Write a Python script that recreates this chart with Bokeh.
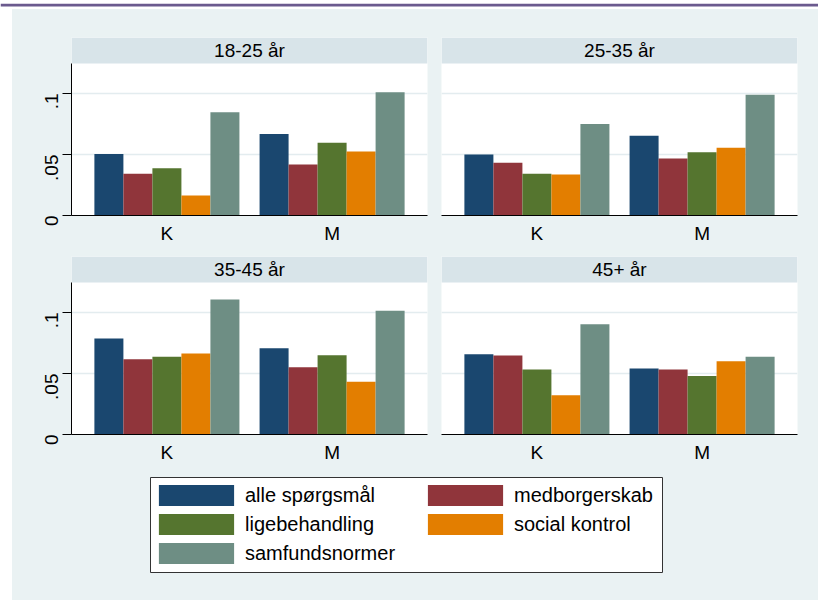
import math
from bokeh.plotting import figure
from bokeh.layouts import column, row, Spacer
from bokeh.models import (ColumnDataSource, FactorRange, Range1d, FixedTicker, Grid,
                          BoxAnnotation, Label, Legend, LegendItem)
from bokeh.transform import dodge
from bokeh.embed import file_html
from bokeh.resources import INLINE

# ---------------- data ----------------
groups = ["K", "M"]
panel_titles = ["18-25 år", "25-35 år", "35-45 år", "45+ år"]
series_names = ["alle spørgsmål", "medborgerskab", "ligebehandling",
                "social kontrol", "samfundsnormer"]

# one (K, M) pair per panel, panels in the order of panel_titles
alle_spoergsmaal = [(0.0505, 0.0669), (0.0500, 0.0653), (0.0786, 0.0707), (0.0658, 0.0542)]
medborgerskab    = [(0.0342, 0.0418), (0.0432, 0.0467), (0.0616, 0.0551), (0.0647, 0.0532)]
ligebehandling   = [(0.0388, 0.0596), (0.0342, 0.0519), (0.0638, 0.0649), (0.0532, 0.0479)]
social_kontrol   = [(0.0164, 0.0525), (0.0336, 0.0555), (0.0663, 0.0433), (0.0321, 0.0600)]
samfundsnormer   = [(0.0847, 0.1011), (0.0749, 0.0989), (0.1107, 0.1014), (0.0904, 0.0638)]

y_ticks = [0, 0.05, 0.1]
y_tick_labels = ["0", ".05", ".1"]
grid_ticks = [0.05, 0.1]

series_values = [alle_spoergsmaal, medborgerskab, ligebehandling, social_kontrol, samfundsnormer]

# ---------------- style ----------------
FONT = "Liberation Sans"
BG = "#EAF2F3"
STRIP = "#D8E4E9"
GRID = "#E3ECEF"
PURPLE = "#6B5A8E"
COLORS = ["#1A476F", "#90353B", "#55752F", "#E37E00", "#6E8E84"]

Y_TOP = 0.1246       # top of the plotting area
Y_END = 0.1459       # top of the strip (header)
BAR_W = 0.1756
OFFSETS = [(i - 2) * BAR_W for i in range(5)]
FS = "19px"


def panel_source(idx):
    data = {"grp": groups}
    for j, vals in enumerate(series_values):
        data[f"s{j}"] = list(vals[idx])
    return ColumnDataSource(data)


def make_panel(idx, left_axis, b_left, b_right, b_top, b_bottom):
    p = figure(x_range=FactorRange(*groups, range_padding=0.0776),
               y_range=Range1d(0, Y_END),
               frame_width=356, frame_height=178,
               min_border_left=b_left, min_border_right=b_right,
               min_border_top=b_top, min_border_bottom=b_bottom,
               y_axis_location="left" if left_axis else None,
               output_backend="svg", toolbar_location=None, tools="")
    p.background_fill_color = "white"
    p.border_fill_color = BG
    p.outline_line_color = None
    p.xgrid.grid_line_color = None
    p.ygrid.grid_line_color = None
    p.add_layout(Grid(dimension=1, ticker=FixedTicker(ticks=grid_ticks),
                      grid_line_color=GRID, grid_line_width=1.5))

    src = panel_source(idx)
    for j in range(5):
        p.vbar(x=dodge("grp", OFFSETS[j], range=p.x_range), top=f"s{j}", width=BAR_W,
               source=src, fill_color=COLORS[j], line_color=None)

    # strip header
    p.add_layout(BoxAnnotation(bottom=Y_TOP, fill_color=STRIP, fill_alpha=1,
                               line_color=None, level="underlay"))
    p.add_layout(Label(x=1.0, y=(Y_TOP + Y_END) / 2, text=panel_titles[idx],
                       text_align="center", text_baseline="middle",
                       text_font=FONT, text_font_size=FS, text_color="black"))

    xa = p.xaxis[0]
    xa.axis_line_color = "black"
    xa.axis_line_width = 1
    xa.major_tick_out = 0
    xa.major_tick_in = 0
    xa.minor_tick_out = 0
    xa.major_label_standoff = 7
    xa.major_label_text_font = FONT
    xa.major_label_text_font_size = FS
    xa.major_label_text_color = "black"

    if left_axis:
        ya = p.yaxis[0]
        ya.ticker = FixedTicker(ticks=y_ticks)
        ya.major_label_overrides = dict(zip(y_ticks, y_tick_labels))
        ya.bounds = (0, Y_TOP)
        ya.axis_line_color = "black"
        ya.major_tick_line_color = "black"
        ya.major_tick_out = 9
        ya.major_tick_in = 0
        ya.minor_tick_out = 0
        ya.minor_tick_in = 0
        ya.major_label_orientation = math.pi / 2
        ya.major_label_standoff = 11
        ya.major_label_text_font = FONT
        ya.major_label_text_font_size = FS
        ya.major_label_text_color = "black"
    return p


tl = make_panel(0, True, 59, 7, 28, 31)
tr = make_panel(1, False, 7, 21, 28, 31)
bl = make_panel(2, True, 59, 7, 10, 32)
br = make_panel(3, False, 7, 21, 10, 32)

# ---------------- legend ----------------
leg = figure(frame_width=512, frame_height=95,
             min_border_left=138, min_border_right=156,
             min_border_top=11, min_border_bottom=28,
             x_range=FactorRange(*groups), y_range=Range1d(0, 1),
             x_axis_location=None, y_axis_location=None,
             output_backend="svg", toolbar_location=None, tools="")
leg.grid.visible = False
leg.background_fill_color = "white"
leg.border_fill_color = BG
leg.outline_line_color = "#333333"
leg.outline_line_width = 1

leg_src = panel_source(0)
items = []
for j, (name, c) in enumerate(zip(series_names, COLORS)):
    r = leg.vbar(x="grp", top=f"s{j}", width=0.1, source=leg_src,
                 fill_color=c, line_color=None, visible=False)
    items.append(LegendItem(label=name, renderers=[r]))

legend = Legend(items=items, location=(-1, 6), margin=0, padding=0,
                spacing=3, orientation="horizontal", ncols=2,
                glyph_width=94, glyph_height=26, label_standoff=2,
                label_width=170, label_height=26,
                label_text_font=FONT, label_text_font_size="20px",
                label_text_color="black",
                inactive_fill_alpha=0,
                border_line_color=None, background_fill_alpha=0)
leg.add_layout(legend)

# thin purple rule along the very top of the page, then a white gap
bar_fig = figure(width=818, height=9, min_border=0,
                 x_range=Range1d(0, 1), y_range=Range1d(0, 9),
                 x_axis_location=None, y_axis_location=None,
                 output_backend="svg", toolbar_location=None, tools="")
bar_fig.grid.visible = False
bar_fig.outline_line_color = None
bar_fig.background_fill_color = "white"
bar_fig.border_fill_color = "white"
bar_fig.add_layout(BoxAnnotation(bottom=6, fill_color=PURPLE, fill_alpha=1, line_color=None))

content = column(row(tl, tr, spacing=0), row(bl, br, spacing=0), leg, spacing=0,
                 styles={"background-color": BG})
layout = column(bar_fig, row(Spacer(width=12, height=10), content, spacing=0),
                spacing=0)

open("out.html", "w").write(file_html(layout, INLINE))
